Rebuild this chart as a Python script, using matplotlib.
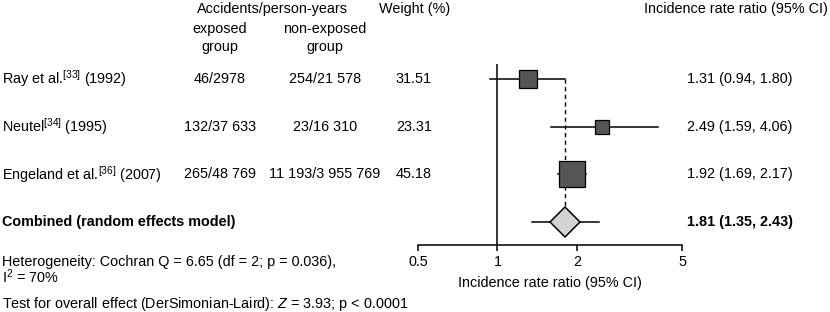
import numpy as np
import matplotlib
matplotlib.use('Agg')
import matplotlib.pyplot as plt
import matplotlib.transforms as mtransforms

plt.rcParams['font.family'] = ['Liberation Sans', 'DejaVu Sans']
plt.rcParams['font.size'] = 10.4
plt.rcParams['mathtext.fontset'] = 'custom'
plt.rcParams['mathtext.rm'] = 'Liberation Sans'
plt.rcParams['mathtext.it'] = 'Liberation Sans:italic'

# study data
studies = ['Ray et al.$^{[33]}$ (1992)', 'Neutel$^{[34]}$ (1995)', 'Engeland et al.$^{[36]}$ (2007)']
exposed = ['46/2978', '132/37 633', '265/48 769']
non_exposed = ['254/21 578', '23/16 310', '11 193/3 955 769']
weights = [31.51, 23.31, 45.18]
irr = [1.31, 2.49, 1.92]
ci_low = [0.94, 1.59, 1.69]
ci_high = [1.80, 4.06, 2.17]

# pooled estimate
pooled = 1.81
pooled_low = 1.35
pooled_high = 2.43

xticks = [0.5, 1, 2, 5]

fig = plt.figure(figsize=(8.3, 3.12), dpi=100)
W, H = 830, 312
# forest plot axes (x-axis line at y=245 px, top at 64 px)
ax = fig.add_axes([418 / W, 1 - 245 / H, 264 / W, (245 - 64) / H])
ax.set_xscale('log')
ax.set_xlim(0.5, 5)
ax.set_ylim(3.48, -0.31)

for s in ['left', 'top', 'right']:
    ax.spines[s].set_visible(False)
ax.spines['bottom'].set_linewidth(1.1)
ax.set_yticks([])
ax.set_xticks(xticks)
ax.set_xticklabels(['0.5', '1', '2', '5'])
ax.xaxis.set_minor_locator(matplotlib.ticker.NullLocator())
ax.tick_params(axis='x', direction='out', length=4, width=1.1, pad=3)
ax.set_xlabel('Incidence rate ratio (95% CI)', labelpad=5)
ax.patch.set_visible(False)

ax.axvline(1, color='black', lw=1.1, zorder=1)

rows = np.arange(len(studies))
# dashed line at pooled estimate
ax.plot([pooled, pooled], [rows[0], 3 - 0.31], color='black', lw=1.0,
        dashes=(3, 2.5), zorder=1)

for i in rows:
    ax.plot([ci_low[i], ci_high[i]], [i, i], color='black', lw=1.1, zorder=2)
    ax.plot(irr[i], i, marker='s', ms=weights[i] * 0.575 * 0.72,
            mfc='#555555', mec='black', mew=0.9, zorder=3)

ax.plot([pooled_low, pooled_high], [3, 3], color='black', lw=1.1, zorder=2)
ax.plot(pooled, 3, marker='D', ms=15, mfc='#d3d3d3', mec='black', mew=1.1, zorder=3)

# text columns
tr = mtransforms.blended_transform_factory(fig.transFigure, ax.transData)
for i in rows:
    fig.text(2 / W, i, studies[i], transform=tr, va='center', ha='left')
    fig.text(220 / W, i, exposed[i], transform=tr, va='center', ha='center')
    fig.text(325 / W, i, non_exposed[i], transform=tr, va='center', ha='center')
    fig.text(414 / W, i, f'{weights[i]:.2f}', transform=tr, va='center', ha='center')
    fig.text(687 / W, i, f'{irr[i]:.2f} ({ci_low[i]:.2f}, {ci_high[i]:.2f})',
             transform=tr, va='center', ha='left')

fig.text(2 / W, 3, 'Combined (random effects model)', transform=tr,
         va='center', ha='left', fontweight='bold')
fig.text(687 / W, 3, f'{pooled:.2f} ({pooled_low:.2f}, {pooled_high:.2f})',
         transform=tr, va='center', ha='left', fontweight='bold')

# headers
fig.text(272 / W, 1 - 9 / H, 'Accidents/person-years', ha='center', va='center')
fig.text(220 / W, 1 - 29 / H, 'exposed', ha='center', va='center')
fig.text(220 / W, 1 - 47 / H, 'group', ha='center', va='center')
fig.text(325 / W, 1 - 29 / H, 'non-exposed', ha='center', va='center')
fig.text(325 / W, 1 - 47 / H, 'group', ha='center', va='center')
fig.text(415 / W, 1 - 9 / H, 'Weight (%)', ha='center', va='center')
fig.text(828 / W, 1 - 9 / H, 'Incidence rate ratio (95% CI)', ha='right', va='center')

# footnotes
fig.text(2 / W, 1 - 262 / H, 'Heterogeneity: Cochran Q = 6.65 (df = 2; p = 0.036),',
         ha='left', va='center')
fig.text(2 / W, 1 - 277 / H, 'I$^{2}$ = 70%', ha='left', va='center')
fig.text(2 / W, 1 - 304 / H,
         r'Test for overall effect (DerSimonian-Laird): $\mathit{Z}$ = 3.93; p < 0.0001',
         ha='left', va='center')

fig.savefig('out.png', dpi=100)
